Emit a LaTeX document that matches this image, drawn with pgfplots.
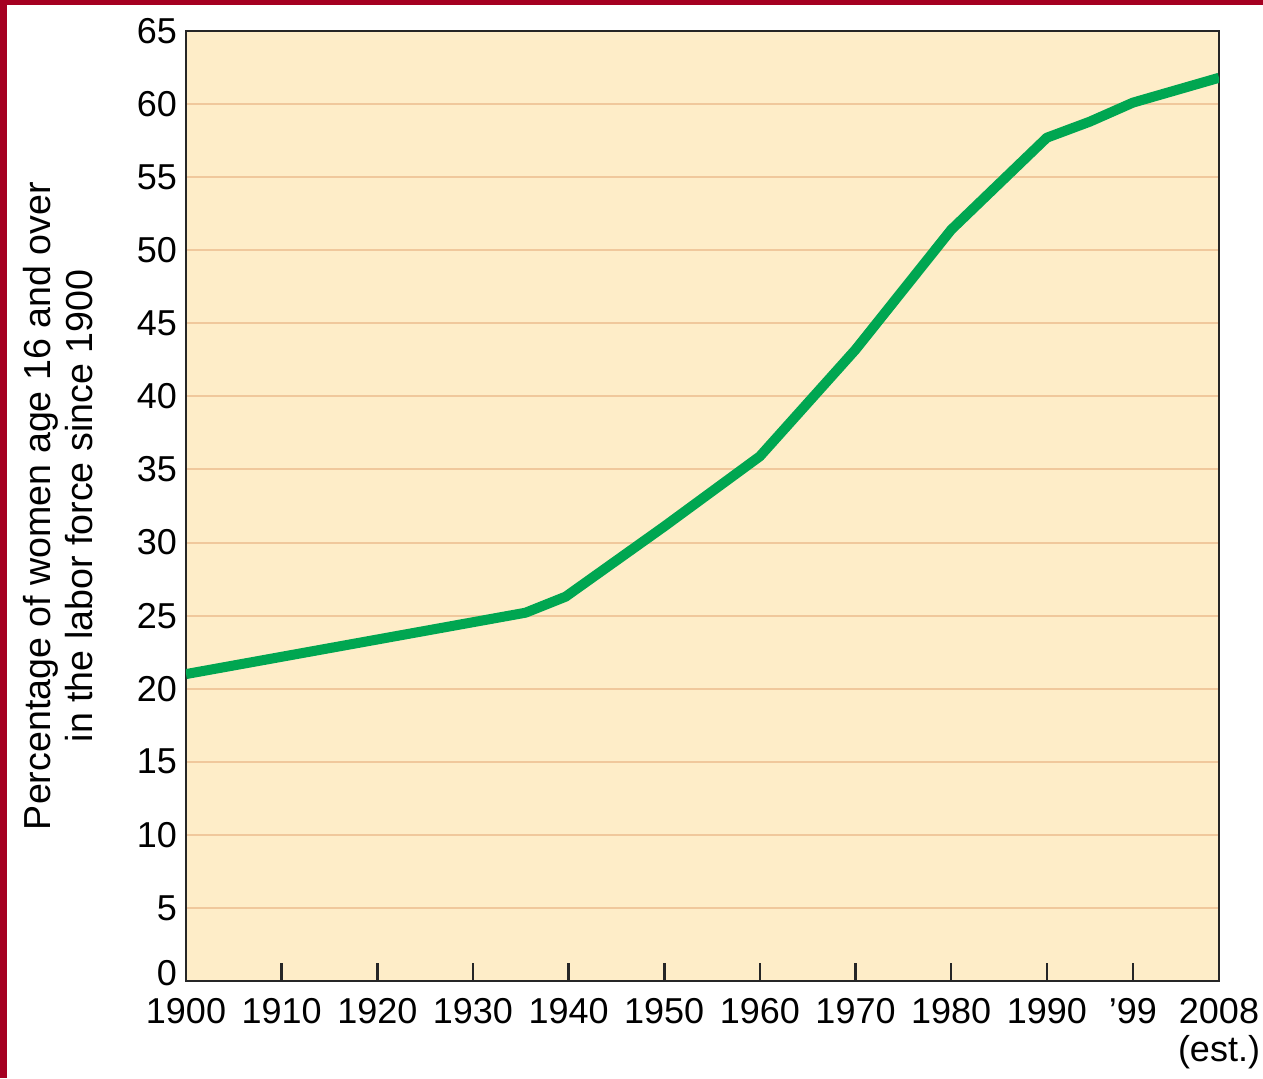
\documentclass[border=0pt]{standalone}
\usepackage{pgfplots}
\pgfplotsset{compat=1.18}
\usepackage{fontspec}
\setmainfont{Liberation Sans}
\definecolor{bgc}{HTML}{FEEDC8}
\definecolor{gridc}{HTML}{F0C89C}
\definecolor{linec}{HTML}{00A651}
\definecolor{redc}{HTML}{A50021}
\begin{document}
\begin{tikzpicture}[x=0.5pt,y=0.5pt]
\useasboundingbox (-186,-97) rectangle (1077,981);
\fill[redc] (-186,-97) rectangle (-179,981);
\fill[redc] (-186,976) rectangle (1077,981);
\begin{axis}[
  at={(0,0)}, anchor=south west,
  scale only axis, width=516.5pt, height=475pt,
  xmin=1900, xmax=2008, ymin=0, ymax=65,
  axis background/.style={fill=bgc},
  axis line style={line width=1.3pt, draw=black!85},
  xtick={1900,1910,1920,1930,1940,1950,1960,1970,1980,1990,1999,2008},
  xticklabels={1900,1910,1920,1930,1940,1950,1960,1970,1980,1990,{'99},{2008\\\hfill(est.)}},
  x tick label style={font=\fontsize{18}{19}\selectfont, align=center, anchor=north, yshift=-5pt},
  ytick={5,10,...,65},
  yticklabels={5,10,15,20,25,30,35,40,45,50,55,60,65},
  y tick label style={font=\fontsize{18}{19}\selectfont, xshift=-1pt},
  extra y ticks={0},
  extra y tick labels={0},
  extra y tick style={ymajorgrids=false, yticklabel style={yshift=4pt}},
  xtick pos=bottom, ytick pos=left,
  tick align=inside,
  major tick length=9pt,
  x tick style={line width=1.3pt, draw=black!85},
  y tick style={draw=none},
  ymajorgrids, major grid style={draw=gridc, line width=1pt},
  ylabel={Percentage of women age 16 and over\\in the labor force since 1900},
  ylabel style={font=\fontsize{18.8}{21}\selectfont, align=center, yshift=15pt},
  clip=true,
]
\addplot[linec, line width=5pt, line join=round] coordinates {
(1900,21.0) (1935.5,25.2) (1939.7,26.3) (1950,31.1) (1960,35.9) (1970,43.2) (1980,51.4) (1990,57.7) (1994.5,58.8) (1999,60.1) (2008,61.8)
};
\end{axis}
\end{tikzpicture}
\end{document}
